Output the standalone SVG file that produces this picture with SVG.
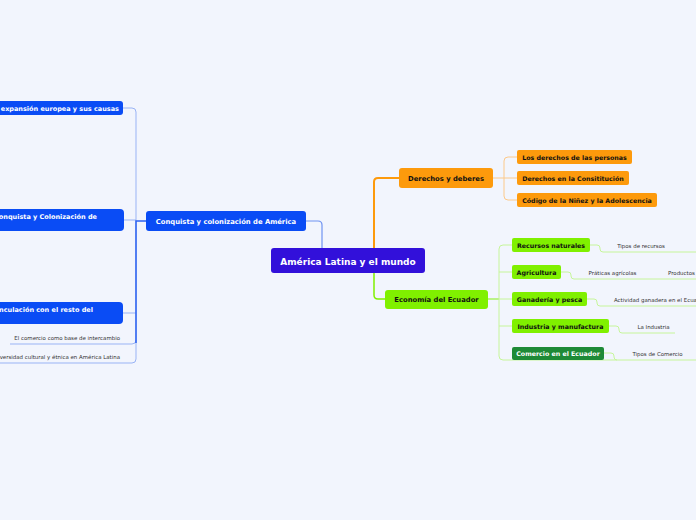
<svg xmlns="http://www.w3.org/2000/svg" width="696" height="520" viewBox="0 0 696 520">
<style>
text{font-family:"DejaVu Sans","Verdana",sans-serif}
.b{font-weight:bold}
.w{fill:#fff}
.k{fill:#111}
.s{font-size:5.45px;fill:#333}
.cb{fill:none;stroke:#99b3f5;stroke-width:1}
.cbd{fill:none;stroke:#2d62f0;stroke-width:1.5}
.co{fill:none;stroke:#fcc98a;stroke-width:1}
.cg{fill:none;stroke:#c6f59a;stroke-width:1}
</style>
<rect width="696" height="520" fill="#f2f5fd"/>
<g id="connectors">
<path d="M306 221 H318 Q322 221 322 225 V248" fill="none" stroke="#6f93f2" stroke-width="1.2"/>
<path class="co" d="M374 248 V182 Q374 178 378 178 H399" style="stroke:#fd9a0c;stroke-width:2"/>
<path class="cg" d="M374 273 V295 Q374 299 378 299 H385" style="stroke:#80f000;stroke-width:1.5"/>
<path class="cb" d="M123 108 H132 Q136 108 136 112 V359 Q136 363 132 363 H0"/>
<path class="cb" d="M124 220 H136"/>
<path class="cb" d="M123 313 H136"/>
<path class="cb" d="M136 340 Q136 344 132 344 H10"/>
<path class="cbd" d="M146 221 H136 V343"/>
<path class="co" d="M493 178 H504 M504 161 Q504 157 508 157 H517 M504 178 H517 M504 161 V196 Q504 200 508 200 H517"/>
<path class="cg" d="M488 299 H499" style="stroke:#a8f060;stroke-width:1.5"/>
<path class="cg" d="M512 245 H503 Q499 245 499 249 V356 Q499 360 503 360 H696"/>
<path class="cg" d="M499 272 H512 M499 299 H512 M499 326 H512"/>
<path class="cg" d="M590 245 H597 Q600 245 600 248 V249 Q600 252 603 252 H696"/>
<path class="cg" d="M561 272 H568 Q571 272 571 275 V276 Q571 279 574 279 H696"/>
<path class="cg" d="M587 299 H594 Q597 299 597 302 V303 Q597 306 600 306 H696"/>
<path class="cg" d="M609 326 H616 Q619 326 619 329 V330 Q619 333 622 333 H675"/>
<path class="cg" d="M604 353 H611 Q614 353 614 356 V357 Q614 360 617 360"/>
</g>
<g id="central">
<rect x="271" y="248" width="154" height="25" rx="3" fill="#3210da"/>
<text x="348" y="264.5" text-anchor="middle" class="b w" font-size="9">América Latina y el mundo</text>
</g>
<g id="conquista">
<rect x="146" y="211" width="160" height="20" rx="3" fill="#0a4cf5"/>
<text x="226" y="223.5" text-anchor="middle" class="b w" font-size="6.8">Conquista y colonización de América</text>
</g>
<g id="expansion">
<rect x="-10" y="101" width="133" height="14" rx="3" fill="#0a4cf5"/>
<text x="119" y="110.5" text-anchor="end" class="b w" font-size="6.5">expansión europea y sus causas</text>
</g>
<g id="conquista-colonizacion">
<rect x="-10" y="209" width="134" height="22" rx="4" fill="#0a4cf5"/>
<text x="97" y="219" text-anchor="end" class="b w" font-size="6.5">onquista y Colonización de</text>
</g>
<g id="vinculacion">
<rect x="-10" y="302" width="133" height="22" rx="4" fill="#0a4cf5"/>
<text x="93" y="311.5" text-anchor="end" class="b w" font-size="6.5">nculación con el resto del</text>
</g>
<g id="comercio-base">
<text x="120" y="340" text-anchor="end" class="s">El comercio como base de intercambio</text>
</g>
<g id="diversidad">
<text x="120" y="359" text-anchor="end" class="s">versidad cultural y étnica en América Latina</text>
</g>
<g id="derechos">
<rect x="399" y="168" width="94" height="20" rx="3" fill="#fd9a0c"/>
<text x="446" y="180.5" text-anchor="middle" class="b k" font-size="6.8">Derechos y deberes</text>
</g>
<g id="derechos-personas">
<rect x="517" y="150" width="115" height="14" rx="2" fill="#fd9a0c"/>
<text x="574.5" y="159.5" text-anchor="middle" class="b k" font-size="6.3">Los derechos de las personas</text>
</g>
<g id="derechos-constitucion">
<rect x="517" y="171" width="112" height="14" rx="2" fill="#fd9a0c"/>
<text x="573" y="180.5" text-anchor="middle" class="b k" font-size="6.3">Derechos en la Consititución</text>
</g>
<g id="codigo">
<rect x="517" y="193" width="140" height="14" rx="2" fill="#fd9a0c"/>
<text x="587" y="202.5" text-anchor="middle" class="b k" font-size="6.3">Código de la Niñez y la Adolescencia</text>
</g>
<g id="economia">
<rect x="385" y="290" width="103" height="19" rx="3" fill="#80f000"/>
<text x="436.5" y="302" text-anchor="middle" class="b k" font-size="6.8">Economía del Ecuador</text>
</g>
<g id="recursos">
<rect x="512" y="238" width="78" height="14" rx="2" fill="#80f000"/>
<text x="551" y="247.5" text-anchor="middle" class="b k" font-size="6.3">Recursos naturales</text>
<text x="641" y="247.5" text-anchor="middle" class="s">Tipos de recursos</text>
</g>
<g id="agricultura">
<rect x="512" y="265" width="49" height="14" rx="2" fill="#80f000"/>
<text x="536.5" y="274.5" text-anchor="middle" class="b k" font-size="6.3">Agricultura</text>
<text x="612.5" y="274.5" text-anchor="middle" class="s">Práticas agrícolas</text>
<text x="668" y="274.5" class="s">Productos</text>
</g>
<g id="ganaderia">
<rect x="512" y="292" width="75" height="14" rx="2" fill="#80f000"/>
<text x="549.5" y="301.5" text-anchor="middle" class="b k" font-size="6.3">Ganadería y pesca</text>
<text x="614" y="301.5" class="s">Actividad ganadera en el Ecuador</text>
</g>
<g id="industria">
<rect x="512" y="319" width="97" height="14" rx="2" fill="#80f000"/>
<text x="560.5" y="328.5" text-anchor="middle" class="b k" font-size="6.3">Industria y manufactura</text>
<text x="653.5" y="328.5" text-anchor="middle" class="s">La Industria</text>
</g>
<g id="comercio-ecuador">
<rect x="512" y="347" width="92" height="13" rx="2" fill="#1e8a36"/>
<text x="558" y="356" text-anchor="middle" class="b w" font-size="6.3">Comercio en el Ecuador</text>
<text x="657.5" y="356" text-anchor="middle" class="s">Tipos de Comercio</text>
</g>
</svg>
